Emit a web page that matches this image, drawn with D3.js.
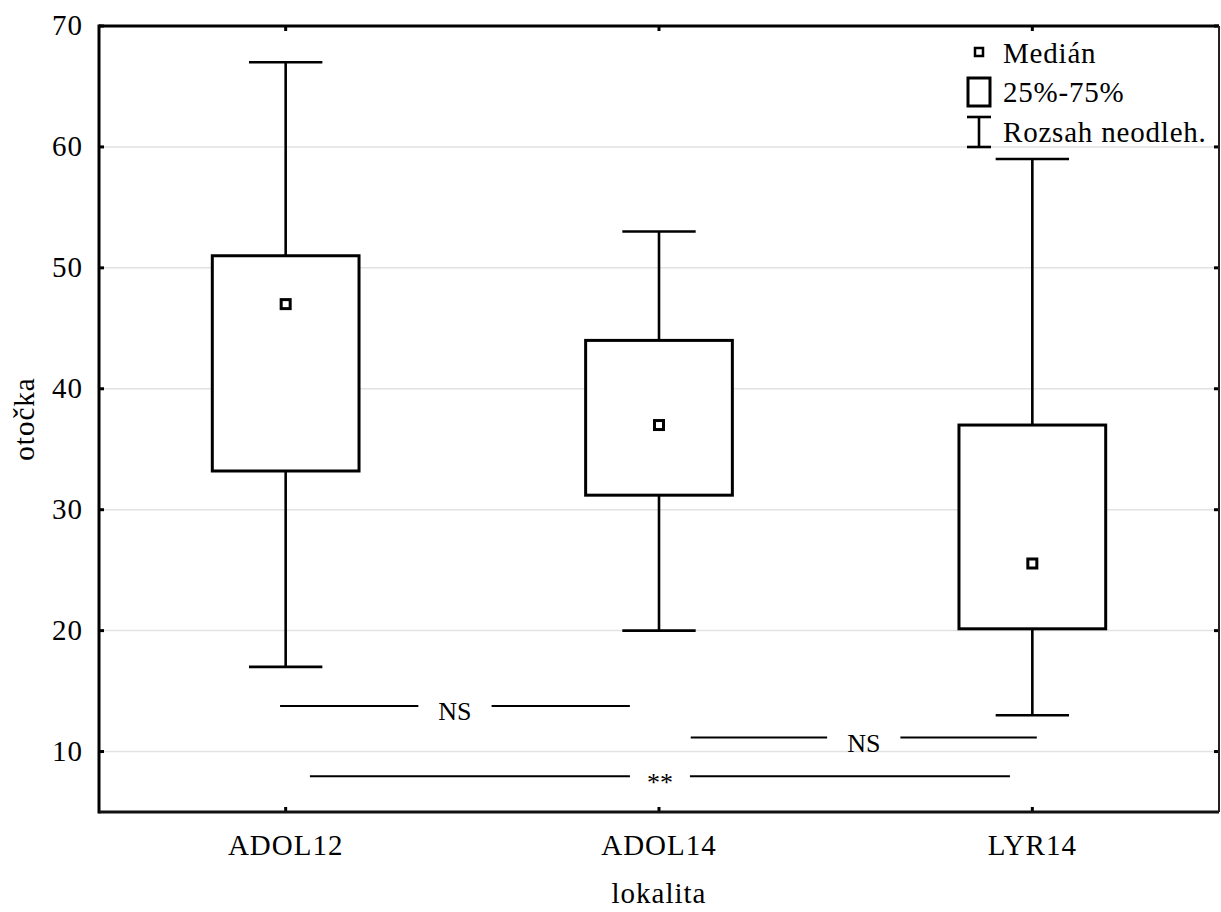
<!DOCTYPE html>
<html>
<head>
<meta charset="utf-8">
<script src="https://cdn.jsdelivr.net/npm/d3@7"></script>
<style>
  html, body { margin: 0; padding: 0; background: #fff; }
  svg text { font-family: "Liberation Serif", "Times New Roman", serif; fill: #000; }
</style>
</head>
<body>
<svg id="chart" width="1221" height="912"></svg>
<script>
// Box plot data: otočka by lokalita
const categories = ["ADOL12", "ADOL14", "LYR14"];
const whiskerLow = [17, 20, 13];
const quartile1 = [33.2, 31.2, 20.15];
const medians = [47, 37, 25.55];
const quartile3 = [51, 44, 37];
const whiskerHigh = [67, 53, 59];
const yTicks = [10, 20, 30, 40, 50, 60, 70];

// Pairwise comparisons (span in category index units, level in y units)
const compLabels = ["NS", "NS", "**"];
const compFrom = [-0.015, 1.085, 0.065];
const compTo = [0.922, 2.012, 1.94];
const compLevel = [13.76, 11.17, 7.95];

const legendLabels = ["Medián", "25%-75%", "Rozsah neodleh."];

const svg = d3.select("#chart");
const pL = 99, pR = 1219, pT = 26, pB = 812;
const fontSize = 29;

const x = d3.scaleBand().domain(categories).range([pL, pR]).padding(0);
const y = d3.scaleLinear().domain([5, 70]).range([pB, pT]);
const bw = x.bandwidth();
const xIdx = d3.scaleLinear().domain([0, 2])
  .range([x(categories[0]) + bw / 2, x(categories[2]) + bw / 2]);

const boxW = bw * 0.393;
const capW = boxW / 2;

// Grid lines
svg.append("g").selectAll("line").data(yTicks.filter(t => t < 70)).join("line")
  .attr("x1", pL).attr("x2", pR)
  .attr("y1", d => y(d)).attr("y2", d => y(d))
  .attr("stroke", "#e2e2e2").attr("stroke-width", 1.5);

// Y axis
const yAxis = d3.axisLeft(y).tickValues(yTicks).tickSize(0).tickPadding(16);
const gy = svg.append("g").attr("transform", `translate(${pL},0)`).call(yAxis);
gy.select(".domain").remove();
gy.selectAll("text").attr("font-size", fontSize).attr("letter-spacing", "1px")
  .attr("font-family", "Liberation Serif").attr("dy", "0.3em");

// X axis
const xAxis = d3.axisBottom(x).tickSize(0).tickPadding(22);
const gx = svg.append("g").attr("transform", `translate(0,${pB})`).call(xAxis);
gx.select(".domain").remove();
gx.selectAll("text").attr("font-size", fontSize).attr("letter-spacing", "1px")
  .attr("font-family", "Liberation Serif").attr("dy", "0.71em");

// Inward tick marks on all sides
const tickG = svg.append("g").attr("stroke", "#000").attr("stroke-width", 3);
tickG.selectAll(".tl").data(yTicks).join("line")
  .attr("x1", pL).attr("x2", pL + 5).attr("y1", d => y(d)).attr("y2", d => y(d));
tickG.selectAll(".tr").data(yTicks).join("line")
  .attr("x1", pR).attr("x2", pR - 5).attr("y1", d => y(d)).attr("y2", d => y(d));
tickG.selectAll(".tb").data(categories).join("line")
  .attr("x1", d => x(d) + bw / 2).attr("x2", d => x(d) + bw / 2)
  .attr("y1", pB).attr("y2", pB - 5);
tickG.selectAll(".tt").data(categories).join("line")
  .attr("x1", d => x(d) + bw / 2).attr("x2", d => x(d) + bw / 2)
  .attr("y1", pT).attr("y2", pT + 5);

// Frame
svg.append("line").attr("x1", pL).attr("x2", pL).attr("y1", pT - 1.5).attr("y2", pB + 1.5)
  .attr("stroke", "#000").attr("stroke-width", 3);
svg.append("line").attr("x1", pL).attr("x2", pR).attr("y1", pB).attr("y2", pB)
  .attr("stroke", "#111").attr("stroke-width", 3);
svg.append("line").attr("x1", pL).attr("x2", pR).attr("y1", pT).attr("y2", pT)
  .attr("stroke", "#000").attr("stroke-width", 3);
svg.append("line").attr("x1", pR).attr("x2", pR).attr("y1", pT).attr("y2", pB)
  .attr("stroke", "#222").attr("stroke-width", 2);

// Boxes
const boxes = categories.map((c, i) => ({
  c, lo: whiskerLow[i], q1: quartile1[i], med: medians[i], q3: quartile3[i], hi: whiskerHigh[i]
}));
const bg = svg.append("g").selectAll("g").data(boxes).join("g")
  .attr("transform", d => `translate(${x(d.c) + bw / 2},0)`);
bg.append("line").attr("x1", 0).attr("x2", 0)
  .attr("y1", d => y(d.q3)).attr("y2", d => y(d.hi))
  .attr("stroke", "#000").attr("stroke-width", 2.6);
bg.append("line").attr("x1", 0).attr("x2", 0)
  .attr("y1", d => y(d.q1)).attr("y2", d => y(d.lo))
  .attr("stroke", "#000").attr("stroke-width", 2.6);
bg.append("line").attr("x1", -capW / 2).attr("x2", capW / 2)
  .attr("y1", d => y(d.hi)).attr("y2", d => y(d.hi))
  .attr("stroke", "#000").attr("stroke-width", 2.6);
bg.append("line").attr("x1", -capW / 2).attr("x2", capW / 2)
  .attr("y1", d => y(d.lo)).attr("y2", d => y(d.lo))
  .attr("stroke", "#000").attr("stroke-width", 2.6);
bg.append("rect").attr("x", -boxW / 2).attr("width", boxW)
  .attr("y", d => y(d.q3)).attr("height", d => y(d.q1) - y(d.q3))
  .attr("fill", "#fff").attr("stroke", "#000").attr("stroke-width", 3);
bg.append("rect").attr("x", -4.5).attr("width", 9)
  .attr("y", d => y(d.med) - 4.5).attr("height", 9)
  .attr("fill", "#fff").attr("stroke", "#000").attr("stroke-width", 3);

// Comparison annotations
const comps = compLabels.map((l, i) => ({ l, from: compFrom[i], to: compTo[i], lvl: compLevel[i] }));
const cg = svg.append("g").selectAll("g").data(comps).join("g");
cg.each(function (d) {
  const g = d3.select(this);
  const x0 = xIdx(d.from), x1 = xIdx(d.to), xm = (x0 + x1) / 2, yy = y(d.lvl);
  const t = g.append("text").attr("x", xm).attr("y", yy)
    .attr("text-anchor", "middle").attr("font-size", 26)
    .attr("dy", "0.55em")
    .text(d.l);
  const half = t.node().getComputedTextLength() / 2 + (d.l === "**" ? 17 : 20);
  g.append("line").attr("x1", x0).attr("x2", xm - half).attr("y1", yy).attr("y2", yy)
    .attr("stroke", "#000").attr("stroke-width", 2);
  g.append("line").attr("x1", xm + half).attr("x2", x1).attr("y1", yy).attr("y2", yy)
    .attr("stroke", "#000").attr("stroke-width", 2);
});

// Legend
const lg = svg.append("g").attr("transform", "translate(979,0)");
lg.append("rect").attr("x", -4).attr("y", 48).attr("width", 8).attr("height", 8)
  .attr("fill", "#fff").attr("stroke", "#000").attr("stroke-width", 2.5);
lg.append("rect").attr("x", -11).attr("y", 78).attr("width", 22).attr("height", 28)
  .attr("fill", "#fff").attr("stroke", "#000").attr("stroke-width", 3);
lg.append("line").attr("x1", 0).attr("x2", 0).attr("y1", 117).attr("y2", 147)
  .attr("stroke", "#000").attr("stroke-width", 2.6);
lg.append("line").attr("x1", -12).attr("x2", 12).attr("y1", 117).attr("y2", 117)
  .attr("stroke", "#000").attr("stroke-width", 2.6);
lg.append("line").attr("x1", -12).attr("x2", 12).attr("y1", 147).attr("y2", 147)
  .attr("stroke", "#000").attr("stroke-width", 2.6);
lg.selectAll("text.lab").data(legendLabels).join("text")
  .attr("x", 24).attr("y", (d, i) => 63 + i * 39.3)
  .attr("font-size", fontSize).attr("letter-spacing", "0.8px")
  .text(d => d);

// Axis titles
svg.append("text").attr("transform", `translate(34,${(pT + pB) / 2}) rotate(-90)`)
  .attr("text-anchor", "middle").attr("font-size", fontSize).attr("letter-spacing", "1px")
  .text("otočka");
svg.append("text").attr("x", (pL + pR) / 2).attr("y", 903)
  .attr("text-anchor", "middle").attr("font-size", fontSize).attr("letter-spacing", "1px")
  .text("lokalita");
</script>
</body>
</html>
